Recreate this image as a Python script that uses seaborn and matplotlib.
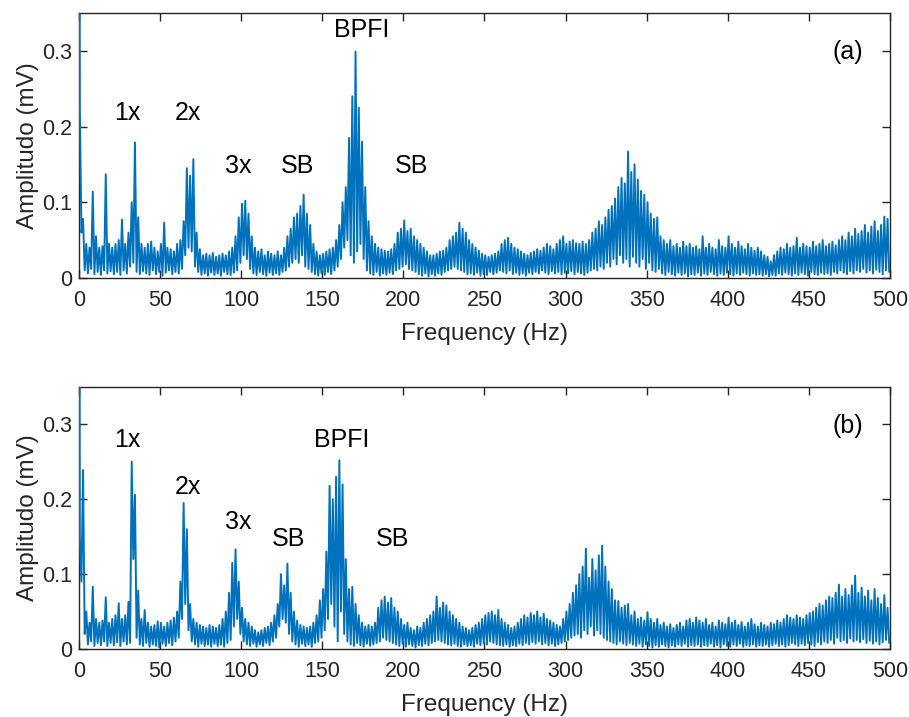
import numpy as np
import pandas as pd
import matplotlib
matplotlib.use("Agg")
import matplotlib.pyplot as plt
import seaborn as sns

# DC component at 0 Hz (goes off the top of both panels)
dc_a = 1.0
dc_b = 1.0

# panel (a): peak of the trace in each 2 Hz bin (0, 2, 4, ... 498 Hz)
upper_a = [
    0.225, 0.078, 0.045, 0.040, 0.114, 0.055, 0.040, 0.042, 0.137, 0.045,
    0.040, 0.045, 0.050, 0.077, 0.045, 0.060, 0.100, 0.179, 0.080, 0.045,
    0.040, 0.045, 0.048, 0.040, 0.035, 0.045, 0.073, 0.040, 0.038, 0.035,
    0.045, 0.050, 0.075, 0.145, 0.135, 0.157, 0.060, 0.038, 0.030, 0.032,
    0.030, 0.033, 0.028, 0.030, 0.032, 0.030, 0.035, 0.040, 0.055, 0.080,
    0.098, 0.102, 0.085, 0.055, 0.040, 0.035, 0.038, 0.030, 0.035, 0.032,
    0.030, 0.035, 0.030, 0.040, 0.055, 0.065, 0.080, 0.085, 0.095, 0.110,
    0.085, 0.070, 0.045, 0.035, 0.030, 0.032, 0.035, 0.038, 0.040, 0.050,
    0.070, 0.100, 0.120, 0.185, 0.240, 0.299, 0.225, 0.180, 0.120, 0.075,
    0.055, 0.045, 0.040, 0.038, 0.036, 0.035, 0.038, 0.045, 0.060, 0.065,
    0.076, 0.062, 0.065, 0.055, 0.050, 0.045, 0.040, 0.035, 0.030, 0.030,
    0.032, 0.035, 0.036, 0.040, 0.050, 0.055, 0.060, 0.073, 0.065, 0.060,
    0.050, 0.045, 0.040, 0.036, 0.032, 0.030, 0.028, 0.030, 0.032, 0.035,
    0.045, 0.050, 0.053, 0.045, 0.040, 0.038, 0.035, 0.032, 0.030, 0.033,
    0.035, 0.038, 0.036, 0.040, 0.045, 0.042, 0.038, 0.045, 0.050, 0.055,
    0.045, 0.048, 0.050, 0.046, 0.045, 0.048, 0.045, 0.050, 0.060, 0.065,
    0.075, 0.070, 0.080, 0.090, 0.095, 0.105, 0.120, 0.132, 0.125, 0.167,
    0.140, 0.150, 0.130, 0.115, 0.110, 0.100, 0.085, 0.078, 0.080, 0.055,
    0.050, 0.045, 0.050, 0.042, 0.045, 0.040, 0.048, 0.042, 0.045, 0.040,
    0.042, 0.038, 0.055, 0.040, 0.045, 0.040, 0.038, 0.050, 0.042, 0.040,
    0.055, 0.045, 0.040, 0.048, 0.042, 0.038, 0.045, 0.040, 0.036, 0.040,
    0.035, 0.030, 0.028, 0.022, 0.030, 0.035, 0.040, 0.038, 0.045, 0.040,
    0.042, 0.053, 0.040, 0.045, 0.042, 0.040, 0.048, 0.042, 0.045, 0.050,
    0.042, 0.045, 0.048, 0.043, 0.050, 0.055, 0.050, 0.060, 0.055, 0.065,
    0.058, 0.062, 0.070, 0.060, 0.068, 0.075, 0.062, 0.070, 0.081, 0.078,
]
# panel (a): trough of the trace in each 2 Hz bin (1, 3, 5, ... 499 Hz)
lower_a = [
    0.060, 0.010, 0.006, 0.012, 0.005, 0.008, 0.004, 0.010, 0.006, 0.009,
    0.005, 0.008, 0.004, 0.010, 0.006, 0.015, 0.020, 0.008, 0.005, 0.009,
    0.006, 0.004, 0.010, 0.005, 0.008, 0.003, 0.007, 0.010, 0.005, 0.008,
    0.006, 0.012, 0.030, 0.040, 0.035, 0.015, 0.008, 0.004, 0.006, 0.003,
    0.007, 0.004, 0.006, 0.003, 0.008, 0.005, 0.004, 0.007, 0.010, 0.020,
    0.030, 0.025, 0.012, 0.006, 0.004, 0.008, 0.005, 0.003, 0.007, 0.004,
    0.006, 0.004, 0.008, 0.010, 0.015, 0.020, 0.025, 0.020, 0.030, 0.015,
    0.012, 0.008, 0.005, 0.003, 0.006, 0.004, 0.008, 0.005, 0.010, 0.015,
    0.025, 0.040, 0.050, 0.030, 0.020, 0.035, 0.045, 0.025, 0.010, 0.006,
    0.004, 0.008, 0.003, 0.006, 0.004, 0.007, 0.005, 0.010, 0.012, 0.015,
    0.018, 0.012, 0.010, 0.008, 0.005, 0.003, 0.006, 0.002, 0.005, 0.003,
    0.006, 0.004, 0.008, 0.010, 0.012, 0.015, 0.012, 0.010, 0.008, 0.005,
    0.006, 0.004, 0.007, 0.003, 0.005, 0.004, 0.008, 0.005, 0.007, 0.010,
    0.008, 0.006, 0.010, 0.005, 0.007, 0.004, 0.006, 0.003, 0.007, 0.005,
    0.008, 0.006, 0.010, 0.007, 0.005, 0.009, 0.006, 0.008, 0.005, 0.007,
    0.006, 0.009, 0.005, 0.008, 0.006, 0.004, 0.007, 0.010, 0.012, 0.010,
    0.015, 0.012, 0.020, 0.015, 0.025, 0.018, 0.030, 0.020, 0.025, 0.015,
    0.028, 0.020, 0.015, 0.025, 0.012, 0.020, 0.010, 0.008, 0.012, 0.006,
    0.004, 0.008, 0.005, 0.003, 0.007, 0.004, 0.006, 0.002, 0.005, 0.004,
    0.007, 0.003, 0.006, 0.004, 0.008, 0.005, 0.003, 0.006, 0.004, 0.007,
    0.005, 0.003, 0.006, 0.004, 0.007, 0.005, 0.003, 0.006, 0.004, 0.005,
    0.003, 0.005, 0.002, 0.004, 0.003, 0.006, 0.004, 0.007, 0.005, 0.003,
    0.006, 0.004, 0.007, 0.005, 0.003, 0.008, 0.005, 0.004, 0.007, 0.005,
    0.006, 0.004, 0.008, 0.006, 0.010, 0.007, 0.005, 0.009, 0.006, 0.010,
    0.008, 0.012, 0.007, 0.010, 0.006, 0.011, 0.008, 0.005, 0.010, 0.008,
]

# panel (b)
upper_b = [
    0.150, 0.239, 0.050, 0.035, 0.083, 0.040, 0.035, 0.038, 0.069, 0.035,
    0.040, 0.045, 0.061, 0.040, 0.045, 0.063, 0.250, 0.206, 0.078, 0.040,
    0.052, 0.035, 0.030, 0.032, 0.037, 0.035, 0.030, 0.035, 0.038, 0.042,
    0.050, 0.090, 0.195, 0.160, 0.060, 0.040, 0.035, 0.032, 0.030, 0.028,
    0.032, 0.030, 0.028, 0.032, 0.040, 0.050, 0.075, 0.115, 0.133, 0.090,
    0.055, 0.040, 0.035, 0.030, 0.025, 0.022, 0.025, 0.028, 0.030, 0.035,
    0.045, 0.060, 0.100, 0.085, 0.114, 0.075, 0.050, 0.038, 0.032, 0.030,
    0.028, 0.030, 0.035, 0.045, 0.065, 0.080, 0.130, 0.218, 0.200, 0.230,
    0.252, 0.220, 0.120, 0.080, 0.083, 0.060, 0.045, 0.035, 0.030, 0.032,
    0.030, 0.035, 0.055, 0.065, 0.070, 0.062, 0.068, 0.055, 0.050, 0.040,
    0.032, 0.035, 0.028, 0.025, 0.030, 0.028, 0.035, 0.040, 0.045, 0.050,
    0.070, 0.055, 0.062, 0.058, 0.050, 0.045, 0.040, 0.035, 0.030, 0.028,
    0.025, 0.028, 0.032, 0.035, 0.040, 0.045, 0.048, 0.050, 0.045, 0.052,
    0.040, 0.035, 0.032, 0.028, 0.030, 0.035, 0.040, 0.045, 0.042, 0.048,
    0.045, 0.050, 0.042, 0.047, 0.040, 0.038, 0.035, 0.032, 0.030, 0.040,
    0.050, 0.060, 0.075, 0.085, 0.100, 0.110, 0.134, 0.095, 0.120, 0.105,
    0.125, 0.138, 0.110, 0.090, 0.080, 0.065, 0.064, 0.055, 0.058, 0.060,
    0.045, 0.050, 0.040, 0.042, 0.038, 0.049, 0.040, 0.035, 0.040, 0.032,
    0.035, 0.030, 0.033, 0.028, 0.032, 0.035, 0.030, 0.038, 0.040, 0.035,
    0.042, 0.038, 0.035, 0.040, 0.032, 0.035, 0.030, 0.038, 0.035, 0.033,
    0.042, 0.035, 0.038, 0.032, 0.036, 0.030, 0.035, 0.040, 0.033, 0.030,
    0.035, 0.032, 0.030, 0.035, 0.033, 0.038, 0.035, 0.040, 0.045, 0.042,
    0.040, 0.045, 0.042, 0.040, 0.045, 0.048, 0.050, 0.055, 0.060, 0.058,
    0.065, 0.070, 0.068, 0.075, 0.086, 0.070, 0.080, 0.072, 0.085, 0.098,
    0.075, 0.082, 0.070, 0.078, 0.065, 0.080, 0.068, 0.060, 0.072, 0.055,
]
lower_b = [
    0.090, 0.020, 0.006, 0.010, 0.004, 0.008, 0.005, 0.010, 0.004, 0.008,
    0.005, 0.009, 0.004, 0.010, 0.006, 0.008, 0.120, 0.015, 0.006, 0.004,
    0.008, 0.003, 0.006, 0.004, 0.002, 0.007, 0.004, 0.008, 0.005, 0.010,
    0.015, 0.040, 0.060, 0.025, 0.010, 0.006, 0.003, 0.007, 0.004, 0.006,
    0.003, 0.007, 0.004, 0.006, 0.003, 0.008, 0.012, 0.030, 0.040, 0.020,
    0.010, 0.006, 0.004, 0.007, 0.003, 0.006, 0.004, 0.008, 0.005, 0.010,
    0.015, 0.030, 0.040, 0.035, 0.020, 0.010, 0.006, 0.003, 0.007, 0.004,
    0.006, 0.003, 0.008, 0.010, 0.015, 0.025, 0.040, 0.060, 0.030, 0.010,
    0.050, 0.020, 0.010, 0.006, 0.004, 0.008, 0.005, 0.003, 0.007, 0.004,
    0.006, 0.008, 0.010, 0.015, 0.012, 0.010, 0.008, 0.006, 0.004, 0.007,
    0.003, 0.006, 0.004, 0.002, 0.005, 0.004, 0.007, 0.005, 0.008, 0.010,
    0.012, 0.010, 0.008, 0.006, 0.005, 0.007, 0.004, 0.003, 0.006, 0.004,
    0.005, 0.003, 0.007, 0.005, 0.008, 0.006, 0.010, 0.008, 0.006, 0.005,
    0.004, 0.006, 0.003, 0.005, 0.004, 0.007, 0.005, 0.008, 0.006, 0.009,
    0.007, 0.010, 0.006, 0.008, 0.005, 0.007, 0.004, 0.006, 0.008, 0.010,
    0.012, 0.015, 0.018, 0.020, 0.015, 0.025, 0.020, 0.030, 0.018, 0.025,
    0.020, 0.015, 0.012, 0.010, 0.008, 0.006, 0.010, 0.007, 0.005, 0.008,
    0.006, 0.004, 0.007, 0.003, 0.006, 0.004, 0.002, 0.005, 0.003, 0.006,
    0.004, 0.002, 0.005, 0.003, 0.006, 0.004, 0.007, 0.003, 0.005, 0.004,
    0.006, 0.003, 0.005, 0.004, 0.007, 0.003, 0.005, 0.002, 0.006, 0.004,
    0.003, 0.006, 0.004, 0.007, 0.003, 0.005, 0.004, 0.006, 0.003, 0.005,
    0.004, 0.006, 0.003, 0.005, 0.007, 0.004, 0.006, 0.003, 0.005, 0.008,
    0.006, 0.004, 0.007, 0.005, 0.008, 0.006, 0.004, 0.009, 0.006, 0.010,
    0.008, 0.012, 0.007, 0.015, 0.010, 0.012, 0.008, 0.014, 0.010, 0.012,
    0.009, 0.013, 0.008, 0.011, 0.007, 0.010, 0.006, 0.009, 0.012, 0.008,
]

# peak labels: (text, frequency, amplitude)
labels_a = [("1x", 30, 0.218), ("2x", 67, 0.218), ("3x", 98, 0.148),
            ("SB", 135, 0.148), ("BPFI", 174, 0.328), ("SB", 205, 0.148)]
labels_b = [("1x", 30, 0.279), ("2x", 67, 0.216), ("3x", 98, 0.169),
            ("SB", 129, 0.147), ("BPFI", 162, 0.279), ("SB", 193, 0.147)]

yticks = [0, 0.1, 0.2, 0.3]
ytick_labels = ["0", "0.1", "0.2", "0.3"]
xticks = [0, 50, 100, 150, 200, 250, 300, 350, 400, 450, 500]


def spectrum(dc, upper, lower):
    vals = np.empty(len(upper) + len(lower))
    vals[0::2] = upper
    vals[1::2] = lower
    freq = 0.5 + np.arange(len(vals))
    return pd.DataFrame({"freq": np.r_[0.0, freq], "amp": np.r_[dc, vals]})


sns.set_style("ticks")
plt.rcParams["font.family"] = ["Liberation Sans", "DejaVu Sans"]

fig = plt.figure(figsize=(9.09, 7.17), dpi=100)
ax_a = fig.add_axes([0.0869, 0.6123, 0.8922, 0.3696])
ax_b = fig.add_axes([0.0869, 0.0949, 0.8922, 0.3654])

panels = [
    (ax_a, spectrum(dc_a, upper_a, lower_a), labels_a, "(a)"),
    (ax_b, spectrum(dc_b, upper_b, lower_b), labels_b, "(b)"),
]

for ax, df, labels, tag in panels:
    sns.lineplot(data=df, x="freq", y="amp", ax=ax, color="#0072BD",
                 linewidth=1.4, estimator=None, sort=False, zorder=3)
    ax.set_xlim(0, 500)
    ax.set_ylim(0, 0.35)
    ax.set_xticks(xticks)
    ax.set_yticks(yticks)
    ax.set_yticklabels(ytick_labels)
    ax.tick_params(direction="in", length=6, width=1.0, colors="#262626",
                   labelsize=15.5, top=True, right=True)
    ax.tick_params(axis="x", pad=9)
    ax.tick_params(axis="y", pad=5)
    for sp in ax.spines.values():
        sp.set_visible(True)
        sp.set_linewidth(1.0)
        sp.set_color("#262626")
    ax.set_xlabel("Frequency (Hz)", fontsize=17.5, color="#262626", labelpad=8)
    ax.set_ylabel("Amplitudo (mV)", fontsize=17.5, color="#262626", labelpad=2)
    for txt, f, a in labels:
        ax.text(f, a, txt, ha="center", va="center", fontsize=18, color="black")
    ax.text(474, 0.298, tag, ha="center", va="center", fontsize=18, color="black")

fig.savefig("out.png", dpi=100)
